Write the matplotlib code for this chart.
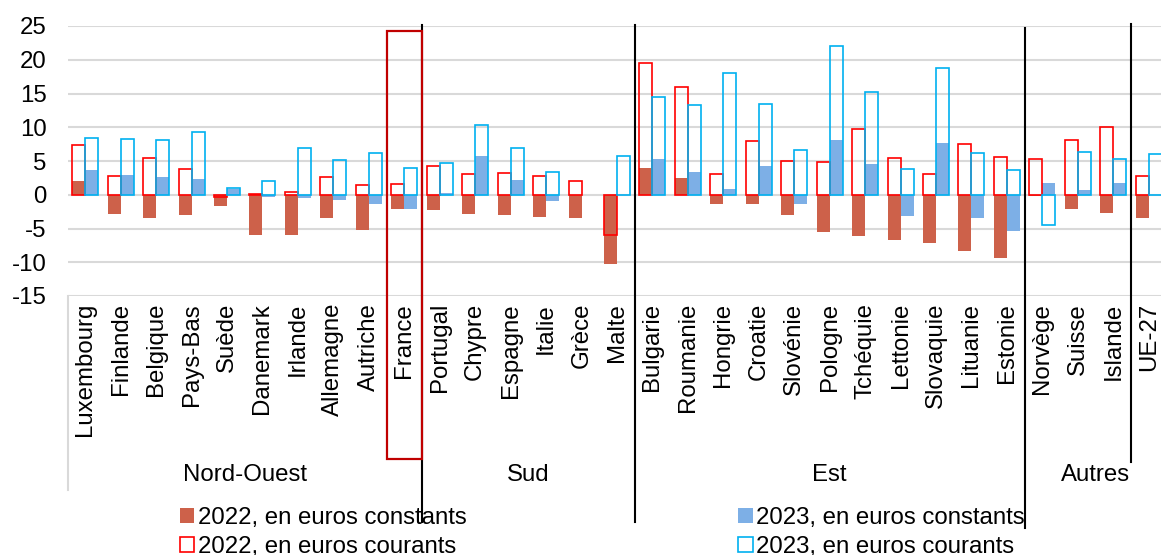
import numpy as np
import matplotlib
matplotlib.use("Agg")
import matplotlib.pyplot as plt
from matplotlib.patches import Patch, Rectangle
from matplotlib.lines import Line2D
from matplotlib.transforms import blended_transform_factory

plt.rcParams['font.family'] = ['Liberation Sans', 'DejaVu Sans']
plt.rcParams['axes.unicode_minus'] = False

nan = np.nan
categories = ["Luxembourg", "Finlande", "Belgique", "Pays-Bas", "Suède", "Danemark",
              "Irlande", "Allemagne", "Autriche", "France",
              "Portugal", "Chypre", "Espagne", "Italie", "Grèce", "Malte",
              "Bulgarie", "Roumanie", "Hongrie", "Croatie", "Slovénie", "Pologne",
              "Tchéquie", "Lettonie", "Slovaquie", "Lituanie", "Estonie",
              "Norvège", "Suisse", "Islande", "UE-27"]
groups = ["Nord-Ouest", "Sud", "Est", "Autres"]
group_sizes = [10, 6, 11, 4]

const_2022 = [2.1, -2.9, -3.5, -3.0, -1.6, -6.0, -6.0, -3.4, -5.2, -2.1,
              -2.2, -2.9, -3.0, -3.3, -3.4, -10.3,
              4.0, 2.5, -1.3, -1.4, -3.0, -5.5, -6.1, -6.7, -7.2, -8.4, -9.3,
              -0.2, -2.1, -2.7, -3.4]
current_2022 = [7.4, 2.8, 5.4, 3.8, -0.4, 0.1, 0.4, 2.6, 1.5, 1.6,
                4.3, 3.1, 3.2, 2.8, 2.0, -5.9,
                19.5, 15.9, 3.1, 7.9, 5.0, 4.9, 9.8, 5.4, 3.1, 7.5, 5.6,
                5.3, 8.1, 10.1, 2.8]
const_2023 = [3.7, 2.9, 2.6, 2.4, 0.9, -0.3, -0.5, -0.8, -1.4, -2.1,
              0.2, 5.8, 2.2, -0.9, nan, nan,
              5.3, 3.4, 0.9, 4.2, -1.3, 8.1, 4.6, -3.2, 7.7, -3.4, -5.3,
              1.8, 0.7, 1.8, nan]
current_2023 = [8.4, 8.2, 8.1, 9.3, 1.0, 2.0, 6.9, 5.2, 6.2, 4.0,
                4.7, 10.4, 7.0, 3.4, nan, 5.8,
                14.5, 13.3, 18.0, 13.5, 6.6, 22.1, 15.2, 3.8, 18.8, 6.2, 3.7,
                -4.5, 6.3, 5.3, 6.0]
labels = ["2022, en euros constants", "2022, en euros courants",
          "2023, en euros constants", "2023, en euros courants"]
highlight = "France"
highlight_top = 24.3

RED_FILL = "#CD614A"
BLUE_FILL = "#7DAFE6"
RED_LINE = "#FF0000"
CYAN_LINE = "#00B0F0"
GRID = "#D9D9D9"
FS = 17.3

W, H = 1161, 555
fig = plt.figure(figsize=(W / 100, H / 100), dpi=100)
left_px, cat_px = 67.5, 35.45
n = len(categories)
ax = fig.add_axes([left_px / W, 1 - 296 / H, n * cat_px / W, (296 - 26) / H])

x = np.arange(n)
bw = 0.367
ax.bar(x - bw / 2, const_2022, bw, color=RED_FILL, zorder=2)
ax.bar(x + bw / 2, const_2023, bw, color=BLUE_FILL, zorder=2)
ax.bar(x - bw / 2, current_2022, bw, facecolor="none", edgecolor=RED_LINE, linewidth=1.2, zorder=3)
ax.bar(x + bw / 2, current_2023, bw, facecolor="none", edgecolor=CYAN_LINE, linewidth=1.2, zorder=3)

ax.set_xlim(-0.5, n - 0.5)
ax.set_ylim(-15, 25)
ax.set_yticks(np.arange(-15, 26, 5))
ax.yaxis.grid(True, color=GRID, linewidth=1.5, zorder=0)
ax.set_axisbelow(True)
for s in ax.spines.values():
    s.set_visible(False)
ax.tick_params(axis='y', length=0, pad=15, labelsize=FS, labelcolor="black")
ax.set_xticks(x)
ax.set_xticklabels(categories, rotation=90, va='top', ha='center', fontsize=FS)
ax.tick_params(axis='x', length=0, pad=5)

tr = blended_transform_factory(ax.transData, fig.transFigure)
def fy(px):
    return 1 - px / H

# group boundaries & labels
bounds = np.concatenate([[0], np.cumsum(group_sizes)]) - 0.5
for b in bounds[:-1]:
    fig.add_artist(Line2D([b, b], [fy(296), fy(490)], transform=tr, color=GRID, linewidth=1.5))
for g, a, b in zip(groups, bounds[:-1], bounds[1:]):
    fig.text((a + b) / 2, fy(475), g, transform=tr, ha='center', va='center', fontsize=FS)

# black separators
seps = [(bounds[1], 25, 522), (bounds[2], 25, 522), (bounds[3], 28, 528), (n - 1.5, 24, 462)]
for xs, y0, y1 in seps:
    fig.add_artist(Line2D([xs, xs], [fy(y0), fy(y1)], transform=tr, color="black", linewidth=1.5, zorder=5))

# France highlight box
hi = categories.index(highlight)
y_top_fig = ax.transData.transform((0, highlight_top))[1] / fig.dpi / fig.get_size_inches()[1]
rect = Rectangle((hi - 0.5, fy(459)), 1, y_top_fig - fy(459), transform=tr,
                 facecolor="none", edgecolor="#C00000", linewidth=1.6, zorder=6)
fig.add_artist(rect)

handles = [Patch(facecolor=RED_FILL, edgecolor="none"),
           Patch(facecolor="white", edgecolor=RED_LINE, linewidth=1.2),
           Patch(facecolor=BLUE_FILL, edgecolor="none"),
           Patch(facecolor="white", edgecolor=CYAN_LINE, linewidth=1.2)]
fig.legend(handles, labels, ncol=2, loc='upper left', bbox_to_anchor=(180 / W, fy(507)),
           frameon=False, fontsize=FS, handlelength=0.6, handleheight=0.6,
           handletextpad=0.15, columnspacing=11.3, labelspacing=0.3, borderpad=0,
           borderaxespad=0)

fig.savefig("out.png", dpi=100)
